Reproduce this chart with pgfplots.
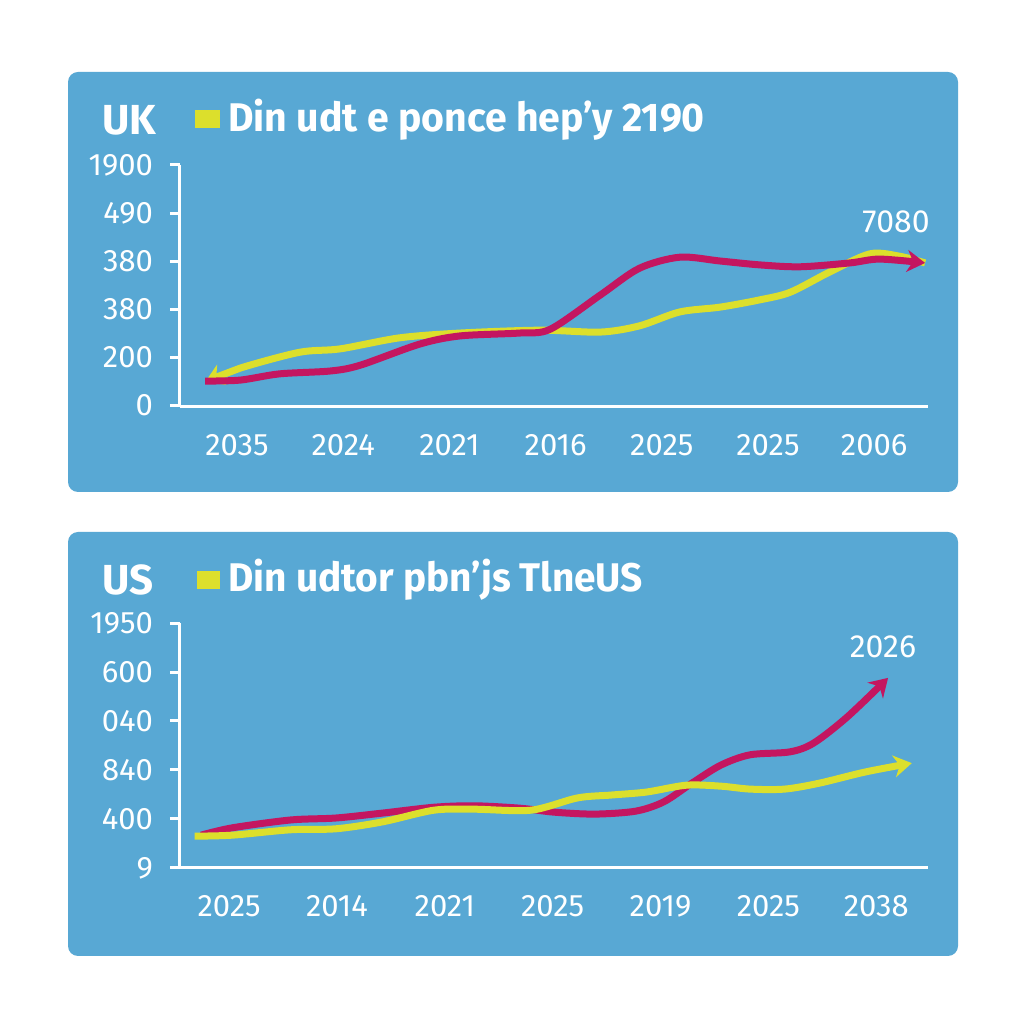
\documentclass[border=0pt]{standalone}
\usepackage{fontspec}
\setmainfont{Fira Sans}
\usepackage{pgfplots}
\pgfplotsset{compat=1.18}
\usetikzlibrary{arrows.meta}
\definecolor{panel}{HTML}{58A8D4}
\definecolor{mag}{HTML}{C41660}
\definecolor{yel}{HTML}{DCDF2C}
\pgfplotsset{panelaxis/.style={
  scale only axis, width=374pt, height=121pt,
  axis lines=left, axis line style={white, line width=1.5pt, -},
  ytick={0,...,5}, xtick={0,...,6},
  tick align=outside, major tick length=5pt,
  ytick style={white, line width=1.5pt},
  xtick style={draw=none},
  tick label style={text=white},
  yticklabel style={font=\fontsize{15.5}{15.5}\selectfont, xshift=-5pt},
  xticklabel style={font=\fontsize{15.5}{15.5}\selectfont, yshift=-5pt},
  /pgf/number format/assume math mode=true,
  clip=false,
}}
\begin{document}
\begin{tikzpicture}
\fill[white] (0,0) rectangle (512pt,512pt);
% panels
\fill[panel, rounded corners=5pt] (34pt,266pt) rectangle (479pt,476pt);
\fill[panel, rounded corners=5pt] (34pt,34pt) rectangle (479pt,246pt);
% UK title
\node[anchor=west, text=white, inner sep=0pt] at (51pt,452pt) {\bfseries\fontsize{21}{21}\selectfont UK};
\fill[yel] (97.5pt,448pt) rectangle (110pt,457pt);
\node[anchor=west, text=white, inner sep=0pt] at (114pt,452pt) {\scalebox{0.98}[1]{\bfseries\fontsize{20}{20}\selectfont Din udt e ponce hep'y 2190}};
% US title
\node[anchor=west, text=white, inner sep=0pt] at (51pt,222pt) {\bfseries\fontsize{21}{21}\selectfont US};
\fill[yel] (98.5pt,217.5pt) rectangle (110pt,226.5pt);
\node[anchor=west, text=white, inner sep=0pt] at (114pt,222pt) {\scalebox{0.97}[1]{\bfseries\fontsize{20}{20}\selectfont Din udtor pbn'js TlneUS}};

% UK axis
\begin{axis}[panelaxis, at={(90pt,308.5pt)}, anchor=south west,
  xmin=-0.537, xmax=6.507, ymin=-0.04, ymax=5.0,
  yticklabels={0,200,380,380,490,1900},
  xticklabels={2035,2024,2021,2016,2025,2025,2006}]
\addplot[yel, line width=3.5pt, smooth, {Stealth[length=9pt,width=11pt]}-] coordinates {
(-0.30,0.48) (0.03,0.77) (0.59,1.10) (0.97,1.17) (1.53,1.40) (2.10,1.50)
(2.85,1.56) (3.42,1.52) (3.79,1.65) (4.17,1.94) (4.55,2.04) (4.92,2.19)
(5.21,2.35) (5.58,2.77) (5.96,3.15) (6.24,3.10) (6.48,2.96)};
\addplot[mag, line width=3.5pt, smooth, -{Stealth[length=9pt,width=11pt]}] coordinates {
(-0.30,0.50) (0.03,0.52) (0.40,0.65) (0.88,0.71) (1.16,0.83) (1.72,1.27)
(2.10,1.44) (2.66,1.50) (2.95,1.58) (3.42,2.29) (3.79,2.85) (4.17,3.08)
(4.55,3.00) (4.92,2.92) (5.30,2.88) (5.77,2.96) (6.05,3.04) (6.48,2.96)};
\end{axis}
\node[text=white, font=\fontsize{16}{16}\selectfont] at (448pt,401pt) {7080};

% US axis
\begin{axis}[panelaxis, at={(90pt,78pt)}, anchor=south west, height=122.5pt,
  xmin=-0.455, xmax=6.48, ymin=0, ymax=5.0,
  yticklabels={9,400,840,040,600,1950},
  xticklabels={2025,2014,2021,2025,2019,2025,2038}]
\addplot[mag, line width=3.5pt, smooth, -{Stealth[length=9pt,width=11pt]}] coordinates {
(-0.26,0.67) (0.03,0.82) (0.57,0.98) (0.99,1.02) (1.42,1.12) (1.90,1.24)
(2.27,1.27) (2.70,1.22) (3.01,1.14) (3.39,1.10) (3.77,1.16) (4.03,1.35)
(4.29,1.73) (4.56,2.10) (4.83,2.31) (5.20,2.37) (5.42,2.55) (5.73,3.08) (6.11,3.88)};
\addplot[yel, line width=3.5pt, smooth, -{Stealth[length=9pt,width=11pt]}] coordinates {
(-0.32,0.65) (0.03,0.67) (0.57,0.78) (0.99,0.80) (1.42,0.94) (1.90,1.18)
(2.27,1.20) (2.80,1.18) (3.23,1.43) (3.55,1.49) (3.87,1.55) (4.24,1.69)
(4.56,1.67) (4.83,1.61) (5.15,1.61) (5.47,1.73) (5.90,1.96) (6.33,2.14)};
\end{axis}
\node[text=white, font=\fontsize{16}{16}\selectfont] at (441.5pt,188.5pt) {2026};
\end{tikzpicture}
\end{document}
